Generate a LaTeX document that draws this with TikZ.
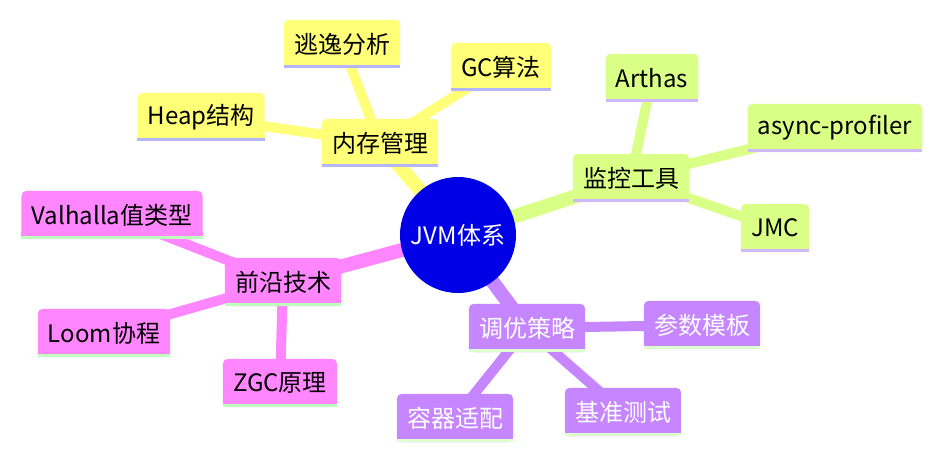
\documentclass[tikz,border=0pt]{standalone}
\usepackage{fontspec}
\newfontfamily\cjkfont{Noto Sans CJK SC}
\usetikzlibrary{backgrounds}
\definecolor{jvmblue}{RGB}{0, 0, 230}
\definecolor{jvmyellow}{RGB}{255, 255, 120}
\definecolor{jvmgreen}{RGB}{217, 255, 134}
\definecolor{jvmpurple}{RGB}{197, 134, 255}
\definecolor{jvmpink}{RGB}{255, 134, 255}
\definecolor{jvmlavender}{RGB}{180, 180, 255}
\definecolor{jvmlilac}{RGB}{208, 184, 255}
\definecolor{jvmmint}{RGB}{190, 255, 190}
\definecolor{jvmpale}{RGB}{220, 255, 205}

\begin{document}
\begin{tikzpicture}[
    x=1pt, y=-1pt,
    mnode/.style 2 args={
        rectangle,
        inner xsep=10pt,
        inner ysep=0pt,
        minimum height=48pt,
        font=\cjkfont\fontsize{24}{29}\selectfont,
        append after command={\pgfextra{
            \fill[#1, rounded corners=5pt] (\tikzlastnode.south west) rectangle (\tikzlastnode.north east);
            \fill[#1, sharp corners] ([yshift=7pt]\tikzlastnode.south west) rectangle (\tikzlastnode.south east);
            \draw[#2, sharp corners, line width=3pt] ([yshift=1.5pt]\tikzlastnode.south west) -- ([yshift=1.5pt]\tikzlastnode.south east);
        }}
    },
    trunk/.style={line width=14pt, draw=#1},
    twig/.style={line width=10pt, draw=#1}
]
\useasboundingbox (0,0) rectangle (943,461);

% Root
\node[circle, fill=jvmblue, minimum size=116pt, inner sep=0pt, text=white,
      font=\cjkfont\fontsize{24}{29}\selectfont] (jvm) at (458,235) {JVM体系};

% Memory branch
\node[mnode={jvmyellow}{jvmlavender}] (memory) at (380,143) {内存管理};
\node[mnode={jvmyellow}{jvmlavender}] (escape) at (342,44) {逃逸分析};
\node[mnode={jvmyellow}{jvmlavender}] (gcalgo) at (501,67) {GC算法};
\node[mnode={jvmyellow}{jvmlavender}] (heap) at (201,117) {Heap结构};

% Monitoring branch
\node[mnode={jvmgreen}{jvmlilac}] (monitor) at (631,178) {监控工具};
\node[mnode={jvmgreen}{jvmlilac}] (arthas) at (652,78) {Arthas};
\node[mnode={jvmgreen}{jvmlilac}] (asyncprof) at (835,128) {async-profiler};
\node[mnode={jvmgreen}{jvmlilac}] (jmc) at (775,228) {JMC};

% Frontier branch
\node[mnode={jvmpink}{jvmmint}] (frontier) at (283,282) {前沿技术};
\node[mnode={jvmpink}{jvmmint}] (valhalla) at (112,215) {Valhalla值类型};
\node[mnode={jvmpink}{jvmmint}] (loom) at (104,333) {Loom协程};
\node[mnode={jvmpink}{jvmmint}] (zgc) at (280,383) {ZGC原理};

% Tuning branch
\node[mnode={jvmpurple}{jvmpale}, text=white] (tuning) at (527,328) {调优策略};
\node[mnode={jvmpurple}{jvmpale}, text=white] (params) at (702,325) {参数模板};
\node[mnode={jvmpurple}{jvmpale}, text=white] (bench) at (623,412) {基准测试};
\node[mnode={jvmpurple}{jvmpale}, text=white] (container) at (455,418) {容器适配};

% Connectors
\begin{scope}[on background layer]
\draw[trunk=jvmyellow] (jvm.center) -- (memory.center);
\draw[trunk=jvmgreen] (jvm.center) -- (monitor.center);
\draw[trunk=jvmpink] (jvm.center) -- (frontier.center);
\draw[trunk=jvmpurple] (jvm.center) -- (tuning.center);

\draw[twig=jvmyellow] (memory.center) -- (escape.center);
\draw[twig=jvmyellow] (memory.center) -- (gcalgo.center);
\draw[twig=jvmyellow] (memory.center) -- (heap.center);

\draw[twig=jvmgreen] (monitor.center) -- (arthas.center);
\draw[twig=jvmgreen] (monitor.center) -- (asyncprof.center);
\draw[twig=jvmgreen] (monitor.center) -- (jmc.center);

\draw[twig=jvmpink] (frontier.center) -- (valhalla.center);
\draw[twig=jvmpink] (frontier.center) -- (loom.center);
\draw[twig=jvmpink] (frontier.center) -- (zgc.center);

\draw[twig=jvmpurple] (tuning.center) -- (params.center);
\draw[twig=jvmpurple] (tuning.center) -- (bench.center);
\draw[twig=jvmpurple] (tuning.center) -- (container.center);
\end{scope}

\end{tikzpicture}
\end{document}
